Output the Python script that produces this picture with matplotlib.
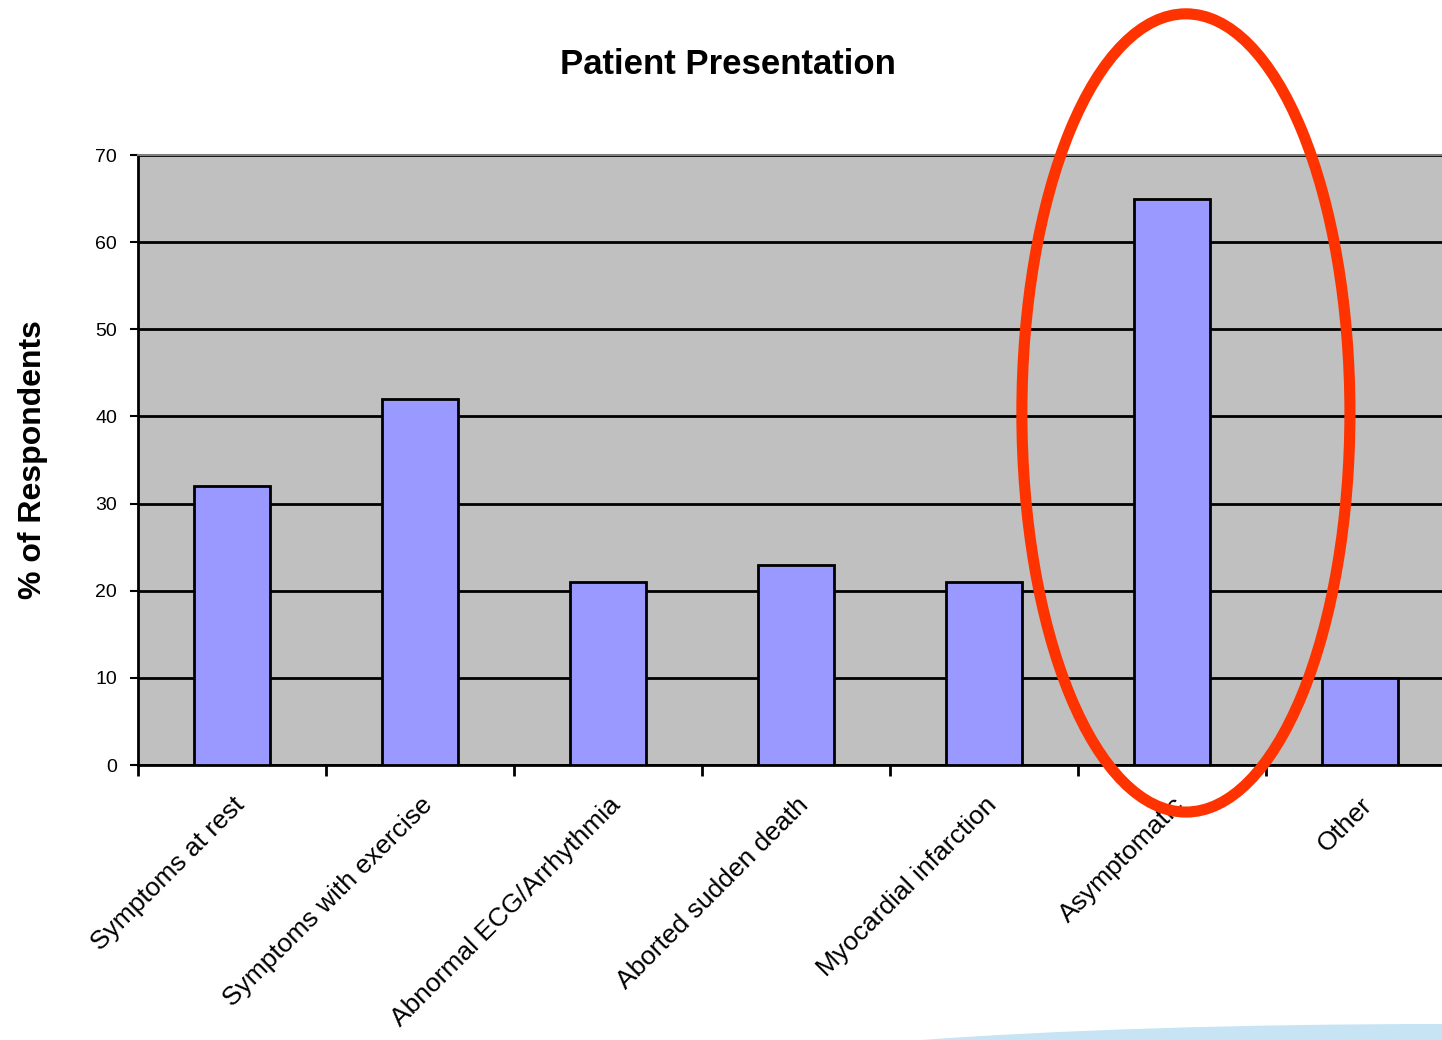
import matplotlib
matplotlib.use("Agg")
import matplotlib.pyplot as plt
from matplotlib.patches import Ellipse
import numpy as np

categories = ["Symptoms at rest", "Symptoms with exercise", "Abnormal ECG/Arrhythmia",
              "Aborted sudden death", "Myocardial infarction", "Asymptomatic", "Other"]
values = [32, 42, 21, 23, 21, 65, 10]
yticks = [0, 10, 20, 30, 40, 50, 60, 70]

plt.rcParams['font.family'] = ['Liberation Sans', 'DejaVu Sans']

fig = plt.figure(figsize=(14.42, 10.40), dpi=100)
W, H = 1442, 1040

# faint decorative swoosh at the bottom right
sw = Ellipse((1442 / W, 1 - 1081 / H), width=1500 / W, height=114 / H,
             transform=fig.transFigure, facecolor='#C6E4F3', edgecolor='none', zorder=0)
fig.patches.append(sw)

left, right, top, bottom = 138, 1454, 155, 765
ax = fig.add_axes([left / W, 1 - bottom / H, (right - left) / W, (bottom - top) / H])
ax.set_facecolor('#C0C0C0')

x = np.arange(len(categories))
ax.set_axisbelow(True)
ax.yaxis.grid(True, color='black', linewidth=2)
ax.bar(x, values, width=0.4, color='#9999FF', edgecolor='black', linewidth=2, zorder=3)

ax.set_xlim(-0.5, len(categories) - 0.5)
ax.set_ylim(0, 70)
ax.set_yticks(yticks)
ax.set_yticklabels([str(v) for v in yticks], fontsize=14)
ax.tick_params(axis='y', direction='out', length=6, width=1.5, pad=9)

ax.set_xticks(x)
ax.set_xticklabels(categories, rotation=45, ha='right', rotation_mode='anchor', fontsize=19)
ax.tick_params(axis='x', which='major', length=0, pad=20)
ax.set_xticks(np.arange(-0.5, len(categories) + 0.5, 1), minor=True)
ax.tick_params(axis='x', which='minor', direction='out', length=8, width=2)

for s in ['left', 'bottom']:
    ax.spines[s].set_color('black')
    ax.spines[s].set_linewidth(2)
ax.spines['top'].set_color('#808080')
ax.spines['top'].set_linewidth(1.5)
ax.spines['right'].set_visible(False)

ax.set_ylabel('% of Respondents', fontsize=23, fontweight='bold', labelpad=34)
fig.text(728 / W, 1 - 64 / H, 'Patient Presentation', fontsize=25, fontweight='bold',
         ha='center', va='center')

# red highlight ellipse around "Asymptomatic"
ell = Ellipse((5.074, 40.4), width=1.745, height=91.6, fill=False, edgecolor='#FF3300',
              linewidth=8, clip_on=False, zorder=5)
ax.add_patch(ell)

fig.savefig('out.png', dpi=100)
